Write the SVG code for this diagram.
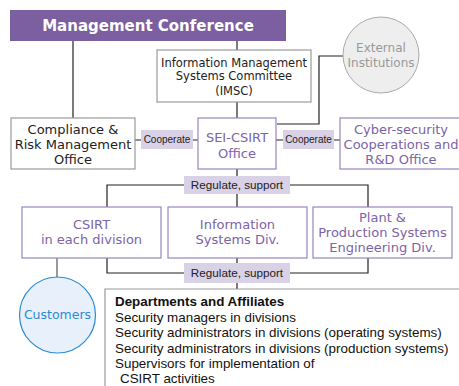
<svg xmlns="http://www.w3.org/2000/svg" width="459" height="386" viewBox="0 0 459 386">
<style>
text{font-family:"DejaVu Sans","Liberation Sans",sans-serif;}
.box{fill:#fff;stroke:#9a9a9a;stroke-width:1.2;}
.pbox{fill:#fff;stroke:#9a85be;stroke-width:1.2;}
.t{font-size:13px;fill:#222;text-anchor:middle;}
.pt{font-size:13px;fill:#7b64a8;text-anchor:middle;}
.lbl{fill:#d9d1e6;}
.lt{font-family:"Liberation Sans",sans-serif;font-size:10px;fill:#222;text-anchor:middle;}
.rt{font-family:"Liberation Sans",sans-serif;font-size:11.7px;fill:#222;text-anchor:middle;}
.ln{fill:none;stroke:#222;stroke-width:1.2;}
.dt{font-family:"Liberation Sans",sans-serif;font-size:13.4px;fill:#111;}
</style>
<g id="connectors">
<path class="ln" d="M73 41V118"/>
<path class="ln" d="M237 41V50M237 102V118"/>
<path class="ln" d="M343 56H319V124H277"/>
<path class="ln" d="M135 140H141M193 140H198M276 140H283M334 140H340"/>
<path class="ln" d="M237 169V207M107 207V185H184M290 185H368V207"/>
<path class="ln" d="M107 258V273H184M290 273H368V258M237 258V289"/>
<path class="ln" d="M57 258V277" style="stroke:#555"/>
</g>
<g id="mgmt">
<rect x="10" y="10" width="276" height="31" fill="#7b5fa0"/>
<text x="148" y="31" font-size="15" font-weight="bold" fill="#fff" text-anchor="middle">Management Conference</text>
</g>
<g id="imsc">
<rect class="box" x="157" y="50" width="154" height="52"/>
<text class="t" x="234" y="67" style="font-size:11.5px">Information Management</text>
<text class="t" x="234" y="80" style="font-size:11.5px">Systems Committee</text>
<text class="t" x="234" y="95" style="font-size:11.5px">(IMSC)</text>
</g>
<g id="external">
<circle cx="381" cy="55" r="38" fill="#eeeeee" stroke="#aaaaaa" stroke-width="1"/>
<text x="381" y="52" font-size="12" fill="#999" text-anchor="middle">External</text>
<text x="381" y="67" font-size="12" fill="#999" text-anchor="middle">Institutions</text>
</g>
<g id="compliance">
<rect class="box" x="11" y="118" width="124" height="51"/>
<text class="t" x="73" y="134">Compliance &amp;</text>
<text class="t" x="73" y="149">Risk Management</text>
<text class="t" x="73" y="164">Office</text>
</g>
<g id="coop1">
<rect class="lbl" x="141" y="130" width="52" height="19"/>
<text class="lt" x="167" y="143">Cooperate</text>
</g>
<g id="sei">
<rect class="pbox" x="198" y="118" width="78" height="51"/>
<text class="pt" x="237" y="142">SEI-CSIRT</text>
<text class="pt" x="237" y="158">Office</text>
</g>
<g id="coop2">
<rect class="lbl" x="283" y="130" width="51" height="19"/>
<text class="lt" x="308.5" y="143">Cooperate</text>
</g>
<g id="cyber">
<rect class="pbox" x="340" y="118" width="130" height="51"/>
<text class="pt" x="401" y="134">Cyber-security</text>
<text class="pt" x="401" y="149">Cooperations and</text>
<text class="pt" x="401" y="164">R&amp;D Office</text>
</g>
<g id="reg1">
<rect class="lbl" x="184" y="176" width="106" height="18"/>
<text class="rt" x="237" y="189">Regulate, support</text>
</g>
<g id="csirt">
<rect class="pbox" x="22" y="207" width="139" height="51"/>
<text class="pt" x="91.5" y="229">CSIRT</text>
<text class="pt" x="91.5" y="244">in each division</text>
</g>
<g id="infosys">
<rect class="pbox" x="168" y="207" width="139" height="51"/>
<text class="pt" x="237.5" y="229">Information</text>
<text class="pt" x="237.5" y="244">Systems Div.</text>
</g>
<g id="plant">
<rect class="pbox" x="313" y="207" width="139" height="51"/>
<text class="pt" x="382.5" y="222">Plant &amp;</text>
<text class="pt" x="382.5" y="237">Production Systems</text>
<text class="pt" x="382.5" y="252">Engineering Div.</text>
</g>
<g id="reg2">
<rect class="lbl" x="184" y="263" width="106" height="20"/>
<text class="rt" x="237" y="277">Regulate, support</text>
</g>
<g id="customers">
<circle cx="57.5" cy="315" r="38" fill="#e8f1fb" stroke="#2a8ad4" stroke-width="1.2"/>
<text x="57.5" y="319" font-size="12.5" fill="#2a8ad4" text-anchor="middle">Customers</text>
</g>
<g id="departments">
<path d="M105 392V289H470" fill="#fff" stroke="#9a9a9a" stroke-width="1.2"/>
<text class="dt" x="115" y="306" font-weight="bold">Departments and Affiliates</text>
<text class="dt" x="115" y="322">Security managers in divisions</text>
<text class="dt" x="115" y="337">Security administrators in divisions (operating systems)</text>
<text class="dt" x="115" y="353">Security administrators in divisions (production systems)</text>
<text class="dt" x="115" y="368">Supervisors for implementation of</text>
<text class="dt" x="120" y="383">CSIRT activities</text>
</g>
</svg>
